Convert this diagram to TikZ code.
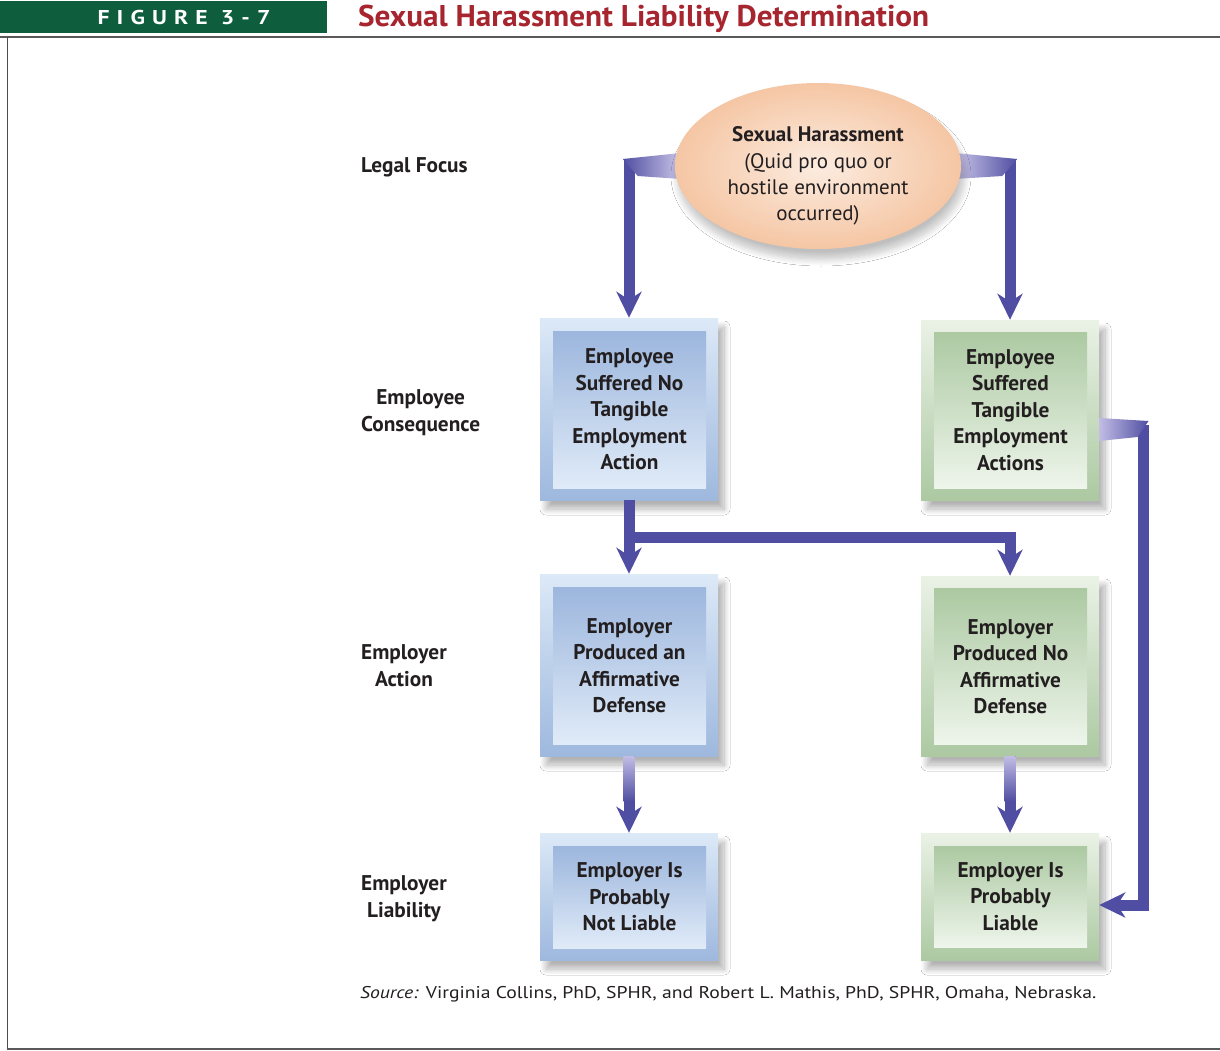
\documentclass[tikz,border=0pt]{standalone}
\usepackage{fontspec}
\usepackage{graphicx}
\setmainfont{PT Sans}
\newfontfamily\figfont[LetterSpace=30]{PT Sans}
\usetikzlibrary{shapes.geometric,arrows.meta,shadows.blur,calc}
\definecolor{arrowc}{RGB}{80,78,162}
\definecolor{lav}{RGB}{178,172,222}
\definecolor{hdrgreen}{RGB}{14,94,62}
\definecolor{titlered}{RGB}{166,37,47}
\definecolor{bOt}{RGB}{220,233,247}
\definecolor{bOb}{RGB}{158,184,222}
\definecolor{bIt}{RGB}{156,182,221}
\definecolor{bIb}{RGB}{224,235,248}
\definecolor{gOt}{RGB}{234,242,230}
\definecolor{gOb}{RGB}{172,201,162}
\definecolor{gIt}{RGB}{172,201,162}
\definecolor{gIb}{RGB}{238,245,235}
\definecolor{peachIn}{RGB}{252,236,224}
\definecolor{peachOut}{RGB}{245,198,164}
\definecolor{txt}{RGB}{35,31,32}
\tikzset{
  conn/.style={draw=arrowc, line width=11pt, -{Stealth[length=26pt,width=25pt,inset=8pt]}},
  boxshadow/.style={blur shadow={shadow xshift=6pt, shadow yshift=-9pt, shadow blur radius=6pt, shadow blur steps=12, shadow opacity=30}},
  outerbox/.style={rectangle, inner sep=0pt, minimum width=178pt, boxshadow},
  blueout/.style={outerbox, top color=bOt, bottom color=bOb},
  greenout/.style={outerbox, top color=gOt, bottom color=gOb},
  innerbox/.style={rectangle, inner sep=0pt, minimum width=153pt, align=center, text=txt,
     font=\bfseries\fontsize{21.3}{26.5}\selectfont},
  bluein/.style={innerbox, top color=bIt, bottom color=bIb},
  greenin/.style={innerbox, top color=gIt, bottom color=gIb},
  rowlabel/.style={anchor=west, inner sep=0pt, align=center, text=txt,
     font=\bfseries\fontsize{21.3}{27}\selectfont},
}
\begin{document}
\begin{tikzpicture}[x=1pt,y=-1pt]
\useasboundingbox (0,0) rectangle (1220,1051);
\fill[white] (0,0) rectangle (1220,1051);

% header
\node[fill=hdrgreen, minimum width=327pt, minimum height=32pt, inner sep=0pt, anchor=north west] (hdr) at (0,1) {};
\node[anchor=base, inner sep=0pt, text=white] (fig) at (184,25)
  {\resizebox{173pt}{\height}{\figfont\bfseries\fontsize{20}{20}\selectfont FIGURE 3-7}};
\node[anchor=base west, inner sep=0pt, text=titlered] (title) at (358,27)
  {\resizebox{571pt}{\height}{\bfseries\fontsize{30}{30}\selectfont Sexual Harassment Liability Determination}};

% frame
\draw[black!65, line width=2pt] (0,37) -- (1220,37);
\draw[black!70, line width=1pt] (7,37) -- (7,1049);
\draw[black!65, line width=2.2pt] (6.5,1049) -- (1220,1049);

% row labels
\node[rowlabel] (l1) at (361,167) {Legal Focus};
\node[rowlabel] (l2) at (361,413) {Employee\\Consequence};
\node[rowlabel] (l3) at (361,666) {Employer\\Action};
\node[rowlabel] (l4) at (361,899) {Employer\\Liability};

% boxes
\node[blueout, minimum height=182pt] (b1) at (629,409) {};
\node[bluein, minimum height=157pt] (b1i) at (629.5,409.5) {Employee\\Suffered No\\Tangible\\Employment\\Action};
\node[greenout, minimum height=180pt] (b2) at (1010,410) {};
\node[greenin, minimum height=156pt] (b2i) at (1010.5,410) {Employee\\Suffered\\Tangible\\Employment\\Actions};
\node[blueout, minimum height=182pt] (b3) at (629,665) {};
\node[bluein, minimum height=157pt] (b3i) at (629.5,665.5) {Employer\\Produced an\\Affirmative\\Defense};
\node[greenout, minimum height=180pt] (b4) at (1010,666) {};
\node[greenin, minimum height=156pt] (b4i) at (1010.5,666.5) {Employer\\Produced No\\Affirmative\\Defense};
\node[blueout, minimum height=127pt] (b5) at (629,896.5) {};
\node[bluein, minimum height=102pt] (b5i) at (629.5,897) {Employer Is\\Probably\\Not Liable};
\node[greenout, minimum height=127pt] (b6) at (1010,896.5) {};
\node[greenin, minimum height=101pt] (b6i) at (1010.5,896.5) {Employer Is\\Probably\\Liable};

% ellipse node (placed, drawn later on top of connectors)
\path (818,166) node[ellipse, minimum width=286pt, minimum height=166pt, inner sep=0pt] (sh) {};

% connectors
\draw[conn] (sh.west) -| (b1.north);
\shade[left color=arrowc, right color=lav!70] ($(sh.west)+(-52,-7)$) -- ($(sh.west)+(6,-13)$) -- ($(sh.west)+(6,13)$) -- ($(sh.west)+(-37,10)$) -- cycle;
\draw[conn] (sh.east) -| (b2.north);
\shade[left color=lav!70, right color=arrowc] ($(sh.east)+(-6,-13)$) -- ($(sh.east)+(56,-7)$) -- ($(sh.east)+(41,10)$) -- ($(sh.east)+(-6,13)$) -- cycle;

\coordinate (j) at (629,537);
\draw[conn] (b1.south) -- (b3.north);
\draw[conn] ([xshift=-5.5pt]j) -| (b4.north);

\draw[conn] (b3.south) -- (b5.north);
\shade[top color=lav!80, bottom color=arrowc] ($(b3.south)+(-5.5,0)$) rectangle ($(b3.south)+(5.5,45)$);
\draw[conn] (b4.south) -- (b6.north);
\shade[top color=lav!80, bottom color=arrowc] ($(b4.south)+(-5.5,0)$) rectangle ($(b4.south)+(5.5,45)$);

\coordinate (rc) at (1143,430);
\coordinate (rd) at (1143,905);
\draw[conn] (b2.east |- rc) -| (rd) -- (b6.east |- rd);
\shade[left color=lav!80, right color=arrowc] ($(b2.east |- rc)+(0,-12)$) -- ($(rc)+(5.5,-9)$) -- ($(rc)+(-5.5,7)$) -- ($(b2.east |- rc)+(0,11)$) -- cycle;

% ellipse drawn on top
\node[ellipse, minimum width=286pt, minimum height=166pt, inner sep=0pt, shading=radial,
  inner color=peachIn, outer color=peachOut,
  blur shadow={shadow xshift=3pt, shadow yshift=-10pt, shadow blur radius=7pt, shadow blur steps=12, shadow opacity=25}] (she) at (sh.center) {};
\node[align=center, text=txt, inner sep=0pt, font=\fontsize{21}{26.3}\selectfont] (sht) at (818,176)
  {\textbf{Sexual Harassment}\\(Quid pro quo or\\hostile environment\\occurred)};

% source
\node[anchor=base west, inner sep=0pt, text=txt] (src) at (360,998)
  {\resizebox{736pt}{\height}{\fontsize{17}{17}\selectfont\textit{Source:} Virginia Collins, PhD, SPHR, and Robert L. Mathis, PhD, SPHR, Omaha, Nebraska.}};
\end{tikzpicture}
\end{document}
